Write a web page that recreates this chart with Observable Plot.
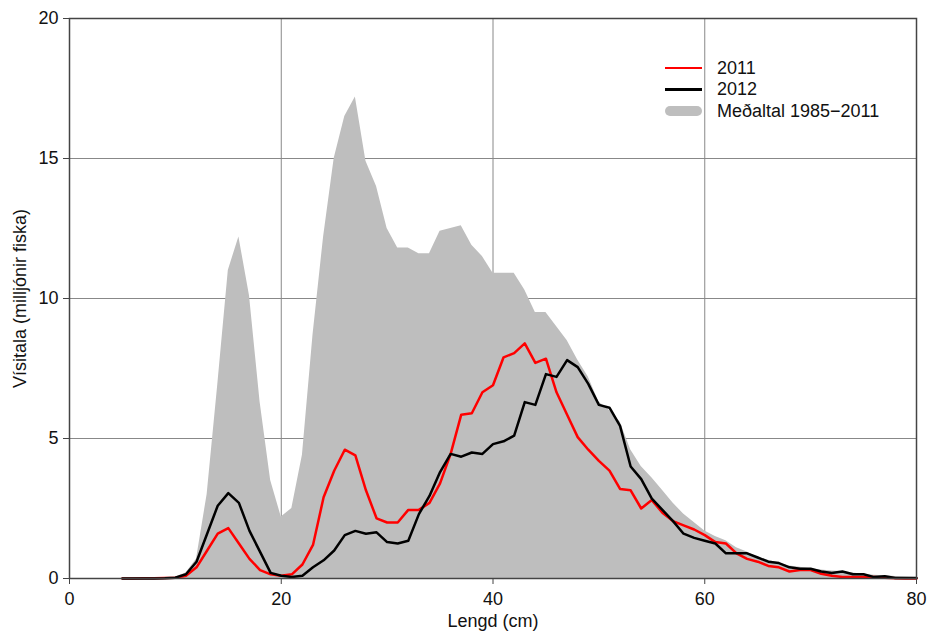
<!DOCTYPE html>
<html><head><meta charset="utf-8">
<script src="https://cdn.jsdelivr.net/npm/d3@7"></script>
<script src="https://cdn.jsdelivr.net/npm/@observablehq/plot@0.6"></script>
<style>
body{margin:0;background:#fff;}
#chart{position:relative;width:929px;height:636px;font-family:"Liberation Sans",Arial,Helvetica,sans-serif;}
#legend{position:absolute;left:665px;top:57px;font-size:18px;color:#111;line-height:1;}
#legend .row{display:flex;align-items:center;height:21.5px;}
#legend .sw{width:37px;margin-right:15px;}
</style></head><body>
<div id="chart"></div>
<script>
// Length classes (cm)
const lengths = [5,6,7,8,9,10,11,12,13,14,15,16,17,18,19,20,21,22,23,24,25,26,27,28,29,30,31,32,33,34,35,36,37,38,39,40,41,42,43,44,45,46,47,48,49,50,51,52,53,54,55,56,57,58,59,60,61,62,63,64,65,66,67,68,69,70,71,72,73,74,75,76,77,78,79,80];
// Index 2011 (million fish)
const y2011 = [0,0,0.01,0.01,0.02,0.03,0.1,0.4,1.0,1.6,1.8,1.25,0.7,0.3,0.15,0.1,0.15,0.5,1.2,2.9,3.85,4.6,4.4,3.15,2.15,2.0,2.0,2.45,2.45,2.7,3.4,4.45,5.85,5.9,6.65,6.9,7.9,8.05,8.4,7.7,7.85,6.65,5.85,5.05,4.6,4.2,3.85,3.2,3.15,2.5,2.8,2.35,2.05,1.9,1.75,1.55,1.3,1.25,0.9,0.7,0.6,0.45,0.4,0.25,0.3,0.3,0.17,0.1,0.05,0.05,0.05,0.05,0.03,0.01,0,0];
// Index 2012 (million fish)
const y2012 = [0,0,0,0,0.01,0.03,0.15,0.6,1.6,2.6,3.05,2.7,1.7,0.95,0.2,0.1,0.05,0.1,0.4,0.65,1.0,1.55,1.7,1.6,1.65,1.3,1.25,1.35,2.3,2.95,3.8,4.45,4.35,4.5,4.45,4.8,4.9,5.1,6.3,6.2,7.3,7.2,7.8,7.55,6.95,6.2,6.1,5.45,4.0,3.55,2.85,2.45,2.05,1.6,1.45,1.35,1.25,0.9,0.9,0.9,0.75,0.6,0.55,0.4,0.35,0.35,0.25,0.2,0.25,0.15,0.15,0.05,0.08,0.02,0.02,0.02];
// Mean 1985-2011 (million fish)
const avg = [0,0,0,0,0.02,0.05,0.2,0.7,3.0,6.9,11.0,12.2,10.1,6.3,3.5,2.2,2.5,4.4,8.7,12.2,15.0,16.5,17.2,14.9,14.0,12.5,11.8,11.8,11.6,11.6,12.4,12.5,12.6,11.9,11.5,10.9,10.9,10.9,10.3,9.5,9.5,9.0,8.5,7.8,7.2,6.3,6.0,5.6,4.6,4.0,3.6,3.15,2.7,2.3,2.0,1.7,1.5,1.35,1.1,0.95,0.75,0.65,0.55,0.45,0.4,0.35,0.3,0.27,0.25,0.2,0.15,0.12,0.1,0.07,0.05,0.04];

const xTicks = [0,20,40,60,80];
const yTicks = [0,5,10,15,20];
const xGrid = [20,40,60];
const yGrid = [5,10,15];

const seriesNames = ["2011","2012","Meðaltal 1985\u22122011"];
const seriesColors = ["#ff0000","#000000","#bebebe"];

const rows = lengths.map((x,i) => ({x, y2011: y2011[i], y2012: y2012[i], avg: avg[i]}));

const plot = Plot.plot({
  width: 929, height: 636,
  marginLeft: 69, marginRight: 13, marginTop: 18, marginBottom: 58,
  style: {fontSize: "18px", fontFamily: "'Liberation Sans', Arial, Helvetica, sans-serif", color: "#111", background: "white"},
  x: {domain: [0,80]},
  y: {domain: [0,20]},
  marks: [
    Plot.gridX(xGrid, {stroke: "#888", strokeOpacity: 1, strokeWidth: 1}),
    Plot.gridY(yGrid, {stroke: "#888", strokeOpacity: 1, strokeWidth: 1}),
    Plot.areaY(rows, {x: "x", y: "avg", fill: seriesColors[2]}),
    Plot.lineY(rows, {x: "x", y: "y2011", stroke: seriesColors[0], strokeWidth: 2.5}),
    Plot.lineY(rows, {x: "x", y: "y2012", stroke: seriesColors[1], strokeWidth: 2.5}),
    Plot.frame({stroke: "#444", strokeWidth: 1.5}),
    Plot.axisX(xTicks, {tickSize: 6, tickPadding: 8, stroke: "#444", label: "Lengd (cm)", labelAnchor: "center", labelArrow: "none", labelOffset: 48}),
    Plot.axisY(yTicks, {tickSize: 6, tickPadding: 5, stroke: "#444", label: "Vísitala (milljónir fiska)", labelAnchor: "center", labelArrow: "none", labelOffset: 56})
  ]
});

const chart = document.getElementById("chart");
chart.appendChild(plot);

// Legend
const legend = d3.select(chart).append("div").attr("id", "legend");
seriesNames.forEach((name, i) => {
  const row = legend.append("div").attr("class", "row");
  const sw = row.append("div").attr("class", "sw");
  if (i < 2) {
    sw.style("height", "2.5px").style("background", seriesColors[i]);
  } else {
    sw.style("height", "10px").style("background", seriesColors[i]).style("border-radius", "5px");
  }
  row.append("span").text(name);
});
</script>
</body></html>
